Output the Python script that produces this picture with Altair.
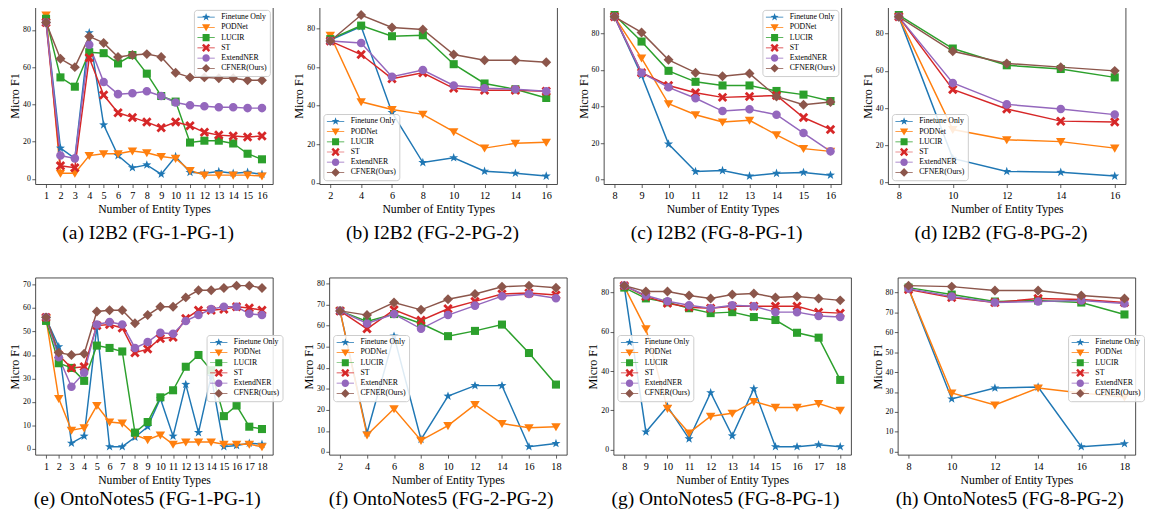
import altair as alt
import pandas as pd

SERIES = ["Finetune Only", "PODNet", "LUCIR", "ST", "ExtendNER", "CFNER(Ours)"]
COLORS = ["#1f77b4", "#ff7f0e", "#2ca02c", "#d62728", "#9467bd", "#8c564b"]

# (a) I2B2 (FG-1-PG-1)
A_X = list(range(1, 17))
A_FT = [85, 16.5, 11, 78.5, 29, 12.5, 6, 7.5, 2.5, 12, 3.5, 3, 4, 3, 3.5, 2.5]
A_POD = [88, 3, 3, 12.5, 13.5, 13.5, 15, 14, 12, 11, 4.5, 2, 2, 2, 2, 1.5]
A_LUCIR = [86, 54.5, 49.5, 68, 67.5, 62, 66.5, 56.5, 44.5, 41.5, 19.5, 20.5, 20.5, 19, 13.5, 10.5]
A_ST = [84, 7, 6, 65, 45, 35.5, 33, 30.5, 27.5, 30.5, 28.5, 25, 23.5, 23, 22.5, 23]
A_EXT = [84, 12.5, 11, 72, 52, 45.5, 46, 47, 44.5, 41, 39.5, 39, 38.5, 38.5, 38, 38]
A_CF = [84, 64.5, 60, 76.5, 73, 65.5, 66.5, 67, 65.5, 57, 54.5, 54.5, 54, 54, 53, 53]

# (b) I2B2 (FG-2-PG-2)
B_X = [2, 4, 6, 8, 10, 12, 14, 16]
B_FT = [74, 81, 36.5, 10.5, 13, 6, 5, 3.5]
B_POD = [76.5, 42, 38, 35.5, 26.5, 18, 20.5, 21]
B_LUCIR = [74.5, 81.5, 76, 76.5, 61.5, 51.5, 48.5, 44]
B_ST = [73.5, 66.5, 54, 57, 49, 48, 48, 47.5]
B_EXT = [73.5, 72.5, 55, 58.5, 50.5, 49, 48.5, 47.5]
B_CF = [73.5, 87, 80.5, 79.5, 66.5, 63.5, 63.5, 62.5]

# (c) I2B2 (FG-8-PG-1)
C_X = [8, 9, 10, 11, 12, 13, 14, 15, 16]
C_FT = [89, 57, 19.5, 4.5, 5, 2, 3.5, 4, 2.5]
C_POD = [89, 66.5, 41.5, 35.5, 31.5, 32.5, 24.5, 17, 15.5]
C_LUCIR = [90, 75.5, 59.5, 53.5, 51.5, 51.5, 48.5, 46.5, 43]
C_ST = [89, 58.5, 51.5, 47.5, 45, 45.5, 46, 34, 27.5]
C_EXT = [89, 58.5, 50.5, 44.5, 37.5, 38.5, 35.5, 25.5, 15.5]
C_CF = [89, 80.5, 65.5, 58.5, 56.5, 58, 45.5, 41, 42.5]

# (d) I2B2 (FG-8-PG-2)
D_X = [8, 10, 12, 14, 16]
D_FT = [89, 13, 6, 5.5, 3.5]
D_POD = [89, 28.5, 23, 22, 18.5]
D_LUCIR = [90, 72, 63, 61, 56.5]
D_ST = [89, 50, 39.5, 33, 32.5]
D_EXT = [89, 53.5, 42, 39.5, 36.5]
D_CF = [89, 70.5, 64, 62, 60]

# (e) OntoNotes5 (FG-1-PG-1)
E_X = list(range(1, 19))
E_FT = [55.5, 43.5, 2.5, 5.5, 52, 1, 1, 5, 9.5, 21.5, 5.5, 27.5, 7, 31, 1, 1.5, 2.5, 2]
E_POD = [55.5, 21.5, 8, 9, 18.5, 11.5, 11, 6, 4, 6, 2, 3, 3, 3, 2, 2, 2, 1]
E_LUCIR = [54.5, 36.5, 34.5, 29, 44, 43, 41.5, 7, 11.5, 22, 25, 35, 40, 33.5, 14, 18.5, 9.5, 8.5]
E_ST = [56, 40, 34.5, 35, 52.5, 53, 51.5, 41, 42.5, 47, 47.5, 55.5, 59, 59, 59.5, 60.5, 60, 59]
E_EXT = [56, 39, 26.5, 32.5, 53, 54, 53, 43, 45.5, 49.5, 49, 54.5, 57, 59.5, 60.5, 60.5, 57.5, 57]
E_CF = [56, 41, 40, 40.5, 58.5, 59, 59, 53.5, 57, 60.5, 60.5, 64.5, 67.5, 67.5, 68.5, 69.5, 69.5, 68.5]

# (f) OntoNotes5 (FG-2-PG-2)
F_X = [2, 4, 6, 8, 10, 12, 14, 16, 18]
F_FT = [67, 9, 55, 6, 26.5, 31.5, 31.5, 2.5, 4]
F_POD = [67, 8, 20.5, 5.5, 12.5, 22.5, 13.5, 11.5, 12]
F_LUCIR = [67, 62, 65.5, 61, 55, 57.5, 60.5, 47, 32]
F_ST = [67, 58.5, 67.5, 62.5, 68, 71.5, 75, 75.5, 74.5]
F_EXT = [67, 61, 65.5, 58.5, 65, 69.5, 74, 75, 73]
F_CF = [67, 65, 71, 67.5, 72.5, 75, 78.5, 79, 78]

# (g) OntoNotes5 (FG-8-PG-1)
G_X = [8, 9, 10, 11, 12, 13, 14, 15, 16, 17, 18]
G_FT = [83, 9, 22, 5.5, 29, 7, 31, 1.5, 1.5, 2.5, 1.5]
G_POD = [83, 61.5, 21, 8.5, 17, 18.5, 24.5, 21.5, 21.5, 23.5, 20]
G_LUCIR = [82.5, 77, 75, 72, 69.5, 70, 67.5, 66, 59.5, 57, 35.5]
G_ST = [83.5, 78, 74.5, 72.5, 72, 73, 73, 73, 73, 70, 69.5]
G_EXT = [83.5, 78.5, 75.5, 73.5, 72, 73.5, 73, 70, 70, 68, 67.5]
G_CF = [83.5, 80.5, 80.5, 78.5, 77, 79, 79.5, 77.5, 78, 77, 76]

# (h) OntoNotes5 (FG-8-PG-2)
H_X = [8, 10, 12, 14, 16, 18]
H_FT = [82, 26.5, 32, 32.5, 2.5, 4]
H_POD = [82, 29.5, 23.5, 32, 29.5, 27.5]
H_LUCIR = [82.5, 79, 75.5, 76, 75, 69]
H_ST = [81.5, 77.5, 75, 77, 76.5, 75]
H_EXT = [82, 78, 75, 75.5, 76, 74.5]
H_CF = [83.5, 83, 81, 81, 78.5, 77]

TICKS_20 = [0, 20, 40, 60, 80]
TICKS_E = [0, 10, 20, 30, 40, 50, 60, 70]
TICKS_10 = [0, 10, 20, 30, 40, 50, 60, 70, 80]

FONT = "Liberation Serif"

# marker shapes (unit square -1..1)
STAR = "M0,-1L0.235,-0.324L0.951,-0.309L0.38,0.124L0.588,0.809L0,0.4L-0.588,0.809L-0.38,0.124L-0.951,-0.309L-0.235,-0.324Z"
TRI_DOWN = "M-1,-0.75L1,-0.75L0,0.95Z"
SQUARE = "M-0.85,-0.85H0.85V0.85H-0.85Z"
XMARK = "M0,-0.42L0.58,-1L1,-0.58L0.42,0L1,0.58L0.58,1L0,0.42L-0.58,1L-1,0.58L-0.42,0L-1,-0.58L-0.58,-1Z"
CIRCLE = "M0.9,0A0.9,0.9,0,1,1,-0.9,0A0.9,0.9,0,1,1,0.9,0Z"
DIAMOND = "M0,-1.05L1.05,0L0,1.05L-1.05,0Z"
MARKERS = [STAR, TRI_DOWN, SQUARE, XMARK, CIRCLE, DIAMOND]
LINE_SEG = "M-2.1,-0.09H2.1V0.09H-2.1Z"
LEGEND_MARKERS = [LINE_SEG + m for m in MARKERS]

PW, PH = 244, 182


def make_df(xs, vals):
    rows = []
    for name, ys in zip(SERIES, vals):
        for x, y in zip(xs, ys):
            rows.append({"x": x, "y": y, "series": name})
    return pd.DataFrame(rows)


def panel(xs, vals, caption, yticks, legend_kw, dx, cap_offset):
    df = make_df(xs, vals)
    ymin, ymax = float(df.y.min()), float(df.y.max())
    ypad = 0.05 * (ymax - ymin)
    xmin, xmax = min(xs), max(xs)
    xpad = 0.05 * (xmax - xmin)
    xenc = alt.X(
        "x:Q",
        scale=alt.Scale(domain=[xmin - xpad, xmax + xpad], nice=False, zero=False),
        axis=alt.Axis(values=xs, format="d", title="Number of Entity Types",
                      labelFontSize=10.5, titleFontSize=12, titlePadding=3,
                      labelPadding=3.5, tickSize=3.5, labelFlush=False,
                      labelOverlap=False),
    )
    yenc = alt.Y(
        "y:Q",
        scale=alt.Scale(domain=[ymin - ypad, ymax + ypad], nice=False, zero=False),
        axis=alt.Axis(values=yticks, format="d", title="Micro F1",
                      labelFontSize=8, titleFontSize=12.5, titlePadding=1,
                      labelPadding=1.5, tickSize=3.5, labelOverlap=False),
    )
    cscale = alt.Scale(domain=SERIES, range=COLORS)
    base = alt.Chart(df).encode(x=xenc, y=yenc)
    lines = base.mark_line(strokeWidth=1.5).encode(
        color=alt.Color("series:N", scale=cscale, legend=None),
        detail="series:N",
    )
    pts = base.mark_point(filled=True, size=95, opacity=1).encode(
        color=alt.Color("series:N", scale=cscale, legend=None),
        shape=alt.Shape("series:N", scale=alt.Scale(domain=SERIES, range=MARKERS), legend=None),
    )
    common = dict(
        title=None, labelFont=FONT, labelFontSize=8, labelColor="black",
        labelFontWeight="normal",
        symbolSize=72, symbolOffset=5, labelOffset=11, symbolStrokeWidth=0,
        rowPadding=1.5, padding=3, fillColor="rgba(255,255,255,0.85)",
        strokeColor="#cccccc", cornerRadius=3, symbolOpacity=1,
    )
    common.update(legend_kw)
    leg = base.transform_filter("datum.y < -9999").mark_point(filled=True, opacity=1).encode(
        color=alt.Color("series:N", scale=cscale, legend=alt.Legend(**common)),
        shape=alt.Shape("series:N", scale=alt.Scale(domain=SERIES, range=LEGEND_MARKERS),
                        legend=alt.Legend(**common)),
    )
    return alt.layer(lines, pts, leg).resolve_scale(
        color="independent", shape="independent"
    ).properties(
        width=PW, height=PH,
        title=alt.TitleParams(caption, orient="bottom", font=FONT, fontSize=20,
                              fontWeight="normal", color="black", anchor="middle",
                              frame="group", dx=dx, offset=cap_offset),
    )


TR = dict(orient="top-right", offset=3)
BL = dict(orient="bottom-left", offset=4)


def at(x, y):
    return dict(orient="none", legendX=x, legendY=y)


pa = panel(A_X, [A_FT, A_POD, A_LUCIR, A_ST, A_EXT, A_CF], "(a) I2B2 (FG-1-PG-1)", TICKS_20, TR, -6, 9)
pb = panel(B_X, [B_FT, B_POD, B_LUCIR, B_ST, B_EXT, B_CF], "(b) I2B2 (FG-2-PG-2)", TICKS_20, BL, -6, 9)
pc = panel(C_X, [C_FT, C_POD, C_LUCIR, C_ST, C_EXT, C_CF], "(c) I2B2 (FG-8-PG-1)", TICKS_20, TR, -6, 9)
pd_ = panel(D_X, [D_FT, D_POD, D_LUCIR, D_ST, D_EXT, D_CF], "(d) I2B2 (FG-8-PG-2)", TICKS_20, BL, -6, 9)
pe = panel(E_X, [E_FT, E_POD, E_LUCIR, E_ST, E_EXT, E_CF], "(e) OntoNotes5 (FG-1-PG-1)", TICKS_E, at(176, 59), -7, 4)
pf = panel(F_X, [F_FT, F_POD, F_LUCIR, F_ST, F_EXT, F_CF], "(f) OntoNotes5 (FG-2-PG-2)", TICKS_10, at(4, 59), -7, 4)
pg = panel(G_X, [G_FT, G_POD, G_LUCIR, G_ST, G_EXT, G_CF], "(g) OntoNotes5 (FG-8-PG-1)", TICKS_20, at(4, 59), -7, 4)
ph = panel(H_X, [H_FT, H_POD, H_LUCIR, H_ST, H_EXT, H_CF], "(h) OntoNotes5 (FG-8-PG-2)", TICKS_10, at(175, 59), -7, 4)

row1 = alt.hconcat(pa, pb, pc, pd_, spacing=19)
row2 = alt.hconcat(pe, pf, pg, ph, spacing=19)

chart = alt.vconcat(row1, row2, spacing=34).resolve_scale(
    color="independent", shape="independent"
).resolve_legend(
    color="independent", shape="independent"
).properties(
    padding={"left": 0, "top": -9, "right": 0, "bottom": 0}
).configure(
    font=FONT
).configure_view(
    stroke="#333333", strokeWidth=0.9
).configure_legend(
    labelFont=FONT, labelFontWeight="normal"
).configure_axis(
    domain=False, grid=False, labelFont=FONT, titleFont=FONT,
    labelColor="black", titleColor="black", tickColor="#333333",
    titleFontWeight="normal", tickWidth=0.8
)

chart.save("out.html", embed_options={"renderer": "svg", "actions": False})
